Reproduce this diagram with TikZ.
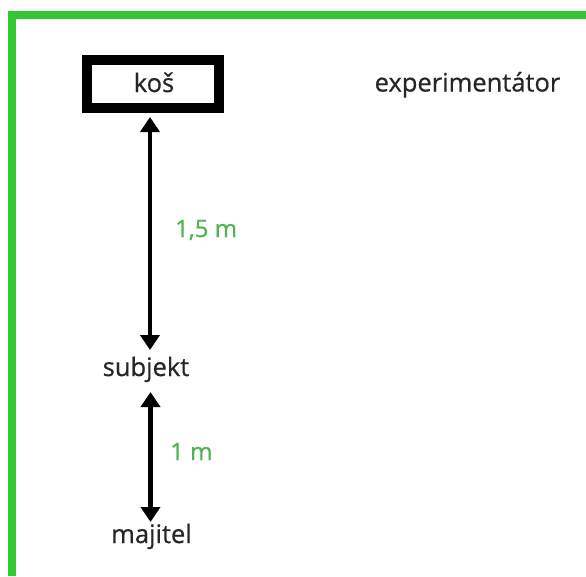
\documentclass[tikz,border=0pt]{standalone}
\usepackage{fontspec}
\setmainfont[FakeBold=0.6]{Open Sans}
\usetikzlibrary{arrows.meta}
\definecolor{frame}{RGB}{50,200,50}
\definecolor{dist}{RGB}{80,180,80}
\tikzset{
  lbl/.style={font=\fontsize{25.5}{30}\selectfont, text=black!85, inner sep=0pt, anchor=base},
  distlbl/.style={font=\fontsize{24}{28}\selectfont, text=dist, inner sep=0pt, anchor=base west},
  dblarrow/.style={line width=4.5pt, {Triangle[width=19pt,length=15pt]}-{Triangle[width=19pt,length=15pt]}},
}
\begin{document}
\begin{tikzpicture}[x=1pt,y=-1pt]
\useasboundingbox (0,0) rectangle (586,576);
\fill[white] (0,0) rectangle (586,576);
% green frame (top and left edges visible)
\fill[frame] (8,11) rectangle (586,18.5);
\fill[frame] (8,11) rectangle (15.5,576);
% box
\draw[line width=10pt] (87,60) rectangle (219,108);
\node[lbl] (kos) at (154,92) {koš};
\node[lbl] (exp) at (467.5,91.5) {experimentátor};
\node[lbl] (subj) at (146,376) {subjekt};
\node[lbl] (maj) at (151.5,543) {majitel};
\coordinate (a1s) at (150,117);
\coordinate (a1e) at (150,350);
\coordinate (a2s) at (150.5,392);
\coordinate (a2e) at (150.5,522);
\draw[dblarrow] (a1s) -- (a1e);
\draw[dblarrow] (a2s) -- (a2e);
\node[distlbl] (d1) at (175,237) {1,5 m};
\node[distlbl] (d2) at (170,460) {1 m};
\end{tikzpicture}
\end{document}
